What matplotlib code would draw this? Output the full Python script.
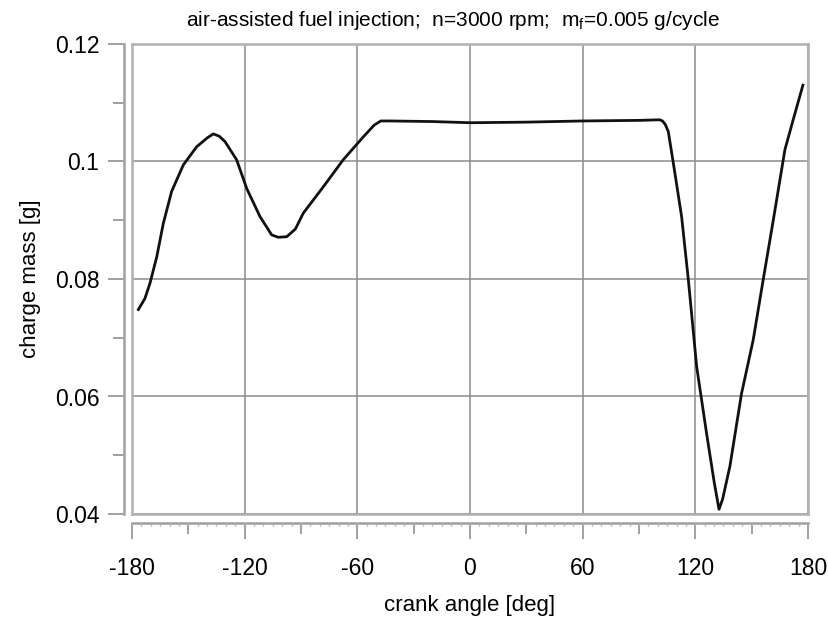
import numpy as np
import matplotlib
matplotlib.use('Agg')
import matplotlib.pyplot as plt
from matplotlib.ticker import MultipleLocator

plt.rcParams['font.family'] = ['Liberation Sans', 'DejaVu Sans']
plt.rcParams['mathtext.default'] = 'regular'
plt.rcParams['axes.unicode_minus'] = False

# crank angle [deg] and charge mass [g]
angle = [-176.6, -173.1, -170.4, -166.8, -163.3, -158.9, -152.7, -145.6, -140.0,
         -136.7, -133.5, -130.5, -124.3, -118.9, -111.8, -105.6, -102.1, -97.6,
         -93.0, -88.8, -78.1, -67.5, -56.8, -51.0, -47.5, -42.6, -20.0, 0.0,
         30.0, 60.0, 90.0, 101.0, 102.5, 104.0, 105.6, 108.3, 112.7, 116.3,
         120.7, 126.0, 130.0, 132.6, 134.5, 138.4, 144.6, 150.8, 156.1, 161.5,
         167.7, 172.1, 177.3]
mass = [0.0748, 0.0767, 0.0793, 0.0838, 0.0895, 0.0949, 0.0994, 0.1025, 0.1040,
        0.1047, 0.1043, 0.1034, 0.1003, 0.0954, 0.0906, 0.0875, 0.0871, 0.0872,
        0.0885, 0.0912, 0.0957, 0.1003, 0.1042, 0.1062, 0.1069, 0.1069, 0.1068,
        0.1066, 0.1067, 0.1069, 0.1070, 0.1071, 0.1069, 0.1063, 0.1051, 0.0997,
        0.0906, 0.0798, 0.0651, 0.0537, 0.0455, 0.0408, 0.0425, 0.0481, 0.0605,
        0.0696, 0.0798, 0.0900, 0.1020, 0.1071, 0.1130]

xticks = [-180, -120, -60, 0, 60, 120, 180]
yticks = [0.04, 0.06, 0.08, 0.1, 0.12]
ylabels = ['0.04', '0.06', '0.08', '0.1', '0.12']

fig = plt.figure(figsize=(8.29, 6.21), dpi=100)
pos = [132/829, 107/621, 676/829, 470/621]

# frame, grid and curve
ax = fig.add_axes(pos)
ax.plot(angle, mass, color='#111111', linewidth=2.0, solid_joinstyle='round')
ax.set_xlim(-180, 180)
ax.set_ylim(0.04, 0.12)
ax.set_xticks(xticks)
ax.set_yticks(yticks)
ax.grid(True, color='#8c8c8c', linewidth=1.1)
ax.tick_params(length=0, labelbottom=False, labelleft=False)
for s in ax.spines.values():
    s.set_color('#b0b0b0')
    s.set_linewidth(1.8)

# detached axes with ticks
ax2 = fig.add_axes(pos)
ax2.patch.set_visible(False)
ax2.set_xlim(-180, 180)
ax2.set_ylim(0.04, 0.12)
ax2.spines['top'].set_visible(False)
ax2.spines['right'].set_visible(False)
ax2.spines['left'].set_position(('outward', 6))
ax2.spines['bottom'].set_position(('outward', 6.5))
for k in ['left', 'bottom']:
    ax2.spines[k].set_color('#a0a0a0')
    ax2.spines[k].set_linewidth(1.8)
ax2.set_xticks(xticks)
ax2.set_yticks(yticks)
ax2.set_yticklabels(ylabels)
ax2.xaxis.set_minor_locator(MultipleLocator(30))
ax2.yaxis.set_minor_locator(MultipleLocator(0.01))
ax2.tick_params(which='major', length=11.5, width=1.3, color='#999999', labelsize=16.5, pad=6)
ax2.tick_params(axis='x', which='major', pad=13)
ax2.tick_params(which='minor', length=8, width=1.3, color='#999999')
ax2.set_xlabel('crank angle [deg]', fontsize=16, labelpad=11)
ax2.set_ylabel('charge mass [g]', fontsize=16, labelpad=10)

# tiny ticks every 5 deg
ax3 = fig.add_axes(pos)
ax3.patch.set_visible(False)
ax3.set_xlim(-180, 180)
for k in ['top', 'right', 'left']:
    ax3.spines[k].set_visible(False)
ax3.spines['bottom'].set_position(('outward', 6.5))
ax3.spines['bottom'].set_color('none')
ax3.set_yticks([])
ax3.set_xticks(np.arange(-180, 181, 5))
ax3.tick_params(axis='x', length=2.5, width=1, color='#b0b0b0', labelbottom=False)

fig.suptitle('air-assisted fuel injection;  n=3000 rpm;  m$_f$=0.005 g/cycle',
             x=0.546, y=0.985, fontsize=15)

fig.savefig('out.png', dpi=100)
